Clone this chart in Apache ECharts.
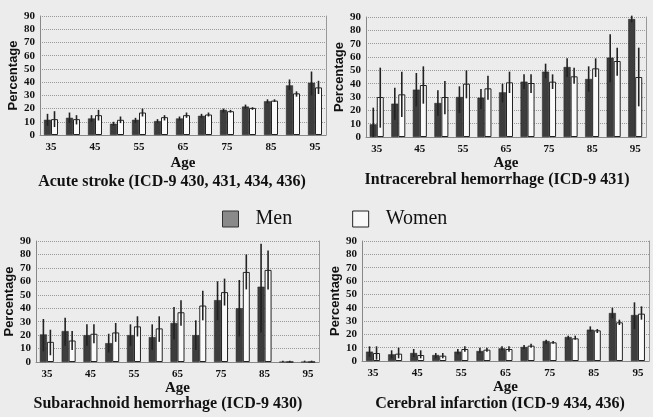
<!DOCTYPE html>
<html>
<head>
<meta charset="utf-8">
<script src="https://cdn.jsdelivr.net/npm/echarts@6/dist/echarts.min.js"></script>
<style>
html,body{margin:0;padding:0;background:#ececec;}
#c{width:653px;height:417px;}
</style>
</head>
<body>
<div id="c"></div>
<script>
// ---- data ----
const ages = ['35','40','45','50','55','60','65','70','75','80','85','90','95'];
const yTicks = [0,10,20,30,40,50,60,70,80,90];
const panelTitles = ['Acute stroke (ICD-9 430, 431, 434, 436)','Intracerebral hemorrhage (ICD-9 431)','Subarachnoid hemorrhage (ICD-9 430)','Cerebral infarction (ICD-9 434, 436)'];

// Acute stroke
const acuteMen   = [11.5,13,12.5,8.5,11.5,10.5,12.5,14.5,19,21.5,25.5,37.5,39.5];
const acuteMenErr = [[7,16],[9,17],[10,15],[7,10],[9,13],[9,12],[11,14],[13,16],[17,20],[20,23],[24,27],[34,42],[30,48]];
const acuteWomen = [12,12,15,11.5,17,13.5,15,15.5,18,20.5,26,31.5,36];
const acuteWomenErr = [[6,18],[8,15],[11,19],[9,14],[14,20],[11,15],[13,17],[14,17],[17,19],[19,21],[25,27],[29,33],[31,41]];

// Intracerebral hemorrhage
const ichMen   = [9.5,25,35.5,25.5,30,29.5,33.5,41.5,49,52.5,43.5,59.5,88.5];
const ichMenErr = [[0,22],[13,37],[23,48],[16,35],[18,38],[21,36],[26,40],[36,47],[44,55],[45,59],[34,53],[41,77],[86,91]];
const ichWomen = [30,32,39,30,40,36.5,41,40.5,41.5,45.5,51.5,57,45];
const ichWomenErr = [[7,52],[15,49],[25,53],[17,42],[29,50],[28,46],[33,49],[33,47],[36,47],[40,52],[45,59],[46,67],[23,67]];

// Subarachnoid hemorrhage
const sahMen   = [20.5,23,20,14,20,18.5,29,20,46,40,56,0,0];
const sahMenErr = [[8,32],[12,33],[12,28],[7,21],[12,28],[9,28],[17,41],[9,31],[31,60],[19,61],[22,88],[0,1],[0,1]];
const sahWomen = [15,16,21,22,26.5,25,37,42,52,67,68.5,0,0];
const sahWomenErr = [[5,24],[9,23],[14,28],[15,29],[19,34],[15,34],[27,46],[31,53],[42,62],[54,80],[54,83],[0,1],[0,1]];

// Cerebral infarction
const ciMen   = [7,5,6,4.5,7,7.5,9.5,10.5,15,18,23.5,36,34.5];
const ciMenErr = [[3,11],[2,8],[3,9],[2,6],[5,9],[6,10],[8,11],[9,12],[13,16],[16,19],[22,26],[32,40],[24,44]];
const ciWomen = [6,5.5,4.5,4,9,8.5,9,11.5,14,17,23,29,35.5];
const ciWomenErr = [[1,11],[2,10],[2,8],[2,6],[7,11],[7,10],[7,11],[10,13],[13,15],[16,19],[21,24],[27,31],[31,41]];

// ---- layout ----
const panels = [
  {men:acuteMen, menErr:acuteMenErr, women:acuteWomen, womenErr:acuteWomenErr},
  {men:ichMen, menErr:ichMenErr, women:ichWomen, womenErr:ichWomenErr},
  {men:sahMen, menErr:sahMenErr, women:sahWomen, womenErr:sahWomenErr},
  {men:ciMen, menErr:ciMenErr, women:ciWomen, womenErr:ciWomenErr}
];
const gridPos = [
  {left:40, top:16, width:286, height:119},
  {left:366, top:17, width:280, height:120},
  {left:36, top:241, width:283, height:121},
  {left:362, top:241, width:287, height:120}
];
const titlePos = [{x:172,y:174},{x:497,y:172},{x:168,y:396},{x:500,y:396}];
const ageGap = [21,19,17,17];

const serifBold = {fontFamily:'Liberation Serif', fontWeight:'bold', color:'#111'};
const BW = 7;

const option = {
  backgroundColor:'#ececec',
  animation:false,
  title: panelTitles.map((t,i)=>({
    text:t, left:titlePos[i].x, top:titlePos[i].y, textAlign:'center',
    textStyle:Object.assign({fontSize:16}, serifBold), padding:0
  })),
  legend:{
    left:217, top:204, itemWidth:16, itemHeight:16, itemGap:60,
    icon:'rect',
    textStyle:{fontFamily:'Liberation Serif', fontSize:20, color:'#111', padding:[0,0,0,12]},
    data:[
      {name:'Men', itemStyle:{color:'#8a8a8a', borderColor:'#333', borderWidth:1}},
      {name:'Women', itemStyle:{color:'#f8f8f8', borderColor:'#222', borderWidth:1}}
    ]
  },
  grid: gridPos,
  xAxis: gridPos.map((g,i)=>({
    type:'category', gridIndex:i, data:ages,
    name:'Age', nameLocation:'middle', nameGap:ageGap[i],
    nameTextStyle:Object.assign({fontSize:15}, serifBold),
    axisLine:{lineStyle:{color:'#888'}},
    axisTick:{show:false},
    axisLabel:Object.assign({interval:1, fontSize:11, margin:7}, serifBold)
  })),
  yAxis: [].concat(...gridPos.map((g,i)=>[
    {
      type:'value', gridIndex:i, min:yTicks[0], max:yTicks[yTicks.length-1], interval:10,
      name:'Percentage', nameLocation:'middle', nameGap:16, nameRotate:90,
      nameTextStyle:{fontFamily:'Liberation Sans', fontWeight:'bold', fontSize:13, color:'#111'},
      axisLine:{show:true, lineStyle:{color:'#888'}},
      axisTick:{show:false},
      axisLabel:Object.assign({fontSize:11, margin:5}, serifBold),
      splitLine:{show:true, lineStyle:{color:'#999', type:'dotted'}}
    },
    {
      type:'value', gridIndex:i, position:'right', min:0, max:90, interval:10,
      axisLine:{show:true, lineStyle:{color:'#999'}},
      axisTick:{show:false}, axisLabel:{show:false}, splitLine:{show:false}
    }
  ])),
  series: []
};

function errSeries(i, name, errs, offset){
  return {
    type:'custom', name:name, xAxisIndex:i, yAxisIndex:i*2, z:5,
    data: errs.map((e,k)=>[k, e[0], e[1]]),
    renderItem:function(params, api){
      const lo = api.coord([api.value(0), api.value(1)]);
      const hi = api.coord([api.value(0), api.value(2)]);
      return {type:'line', shape:{x1:lo[0]+offset, y1:lo[1], x2:hi[0]+offset, y2:hi[1]},
              style:{stroke:'#222', lineWidth:1.6}};
    }
  };
}

panels.forEach((p,i)=>{
  option.series.push({
    type:'bar', name:'Men', xAxisIndex:i, yAxisIndex:i*2, data:p.men,
    barWidth:BW, barGap:'0%',
    itemStyle:{color:'#3d3d3d', borderColor:'#222', borderWidth:0.5}
  });
  option.series.push({
    type:'bar', name:'Women', xAxisIndex:i, yAxisIndex:i*2, data:p.women,
    barWidth:BW, barGap:'0%',
    itemStyle:{color:'#fafafa', borderColor:'#222', borderWidth:1}
  });
  option.series.push(errSeries(i,'Men',p.menErr,-BW/2));
  option.series.push(errSeries(i,'Women',p.womenErr,BW/2));
});

const chart = echarts.init(document.getElementById('c'), null, {renderer:'canvas'});
chart.setOption(option);
</script>
</body>
</html>
